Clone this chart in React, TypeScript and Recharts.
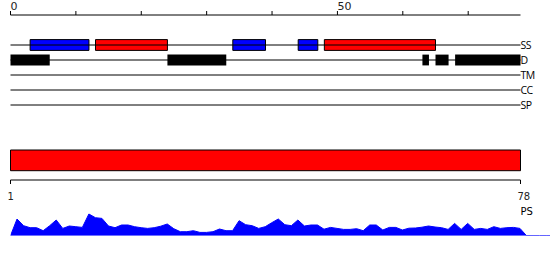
import React from 'react';
import { ComposedChart, XAxis, YAxis, ReferenceLine, ReferenceArea, Area, Label, Line } from 'recharts';

// protein feature tracks
const seqLength = 78;
const trackNames = ['SS', 'D', 'TM', 'CC', 'SP'];
const helixRanges = [[13, 24], [48, 65]];
const strandRanges = [[3, 12], [34, 39], [44, 47]];
const disorderRanges = [[0, 6], [24, 33], [63, 64], [65, 67], [68, 78]];

const topTicks = [0, 10, 20, 30, 40, 50, 60, 70];
const topTickLabels = ['0', '', '', '', '', '50', '', ''];
const bottomTicks = [0, 78];
const bottomTickLabels = ['1', '78'];

// PS profile, one value per position (0..78)
const profileValues = [
  0, 16.7, 10, 8, 8, 5, 10, 15.7, 7.3, 9.7, 9, 8.3, 21.7, 18, 17.3, 9.7, 8, 10.7, 10.7, 9,
  8, 7.3, 8, 9.5, 11.7, 7, 4, 4, 5, 3.3, 3.3, 4, 6.7, 5, 5, 15, 11, 10, 7.3, 9,
  13, 16.7, 11, 10, 15.7, 9.7, 10.7, 10.7, 6.5, 8.3, 7.3, 6.3, 6.3, 7, 5, 10.7, 10.7, 5.7, 8.3, 8.3,
  5.7, 7.5, 7.7, 8.5, 9.7, 8.7, 8, 6.3, 12.3, 6.3, 12.3, 6.3, 7.3, 6.3, 9, 7.3, 8, 8.3, 7.3,
  0, 0, 0, 0, 0,
];

const profileData = profileValues.map((v, i) => ({ pos: i, ps: v }));

const ROW0 = 2; // first track row
const BOX = 0.36; // half height of a feature box, in rows

const TopTick = ({ x, y, index }: any) => (
  <text x={x} y={y + 1} textAnchor="start" fontSize={11} fill="#222">
    {topTickLabels[index] ?? ''}
  </text>
);

const BottomTick = ({ x, y, index }: any) => (
  <text x={x - 3} y={y + 14} textAnchor="start" fontSize={10} fill="#222">
    {bottomTickLabels[index] ?? ''}
  </text>
);

const PsLabel = ({ viewBox }: any) => (
  <text x={viewBox.x + viewBox.width} y={viewBox.y + 34.6} fontSize={10} fill="#000">
    PS
  </text>
);

export default function App() {
  const trackLabel = (name: string) => ({
    value: name, position: 'right' as const, offset: 0, fontSize: 10.5, fill: '#000', fontFamily: 'Open Sans', letterSpacing: -0.6,
  });

  return (
    <div style={{ position: 'fixed', left: 0, top: 0, width: 550, height: 260, background: '#fff', fontFamily: 'DejaVu Sans' }}>
      <div style={{ position: 'absolute', left: 0, top: 0 }}>
        <ComposedChart width={550} height={260} data={profileData} margin={{ top: 0, right: 29.5, bottom: 40, left: 10.5 }}>
          <XAxis
            xAxisId="top" dataKey="pos" orientation="top" type="number" domain={[0, seqLength]} height={15}
            allowDataOverflow ticks={topTicks} interval={0} tickSize={4} tick={<TopTick />}
            axisLine={{ stroke: '#000' }} tickLine={{ stroke: '#000' }}
          />
          <XAxis
            xAxisId="bottom" dataKey="pos" orientation="bottom" type="number" domain={[0, seqLength]} height={40}
            allowDataOverflow ticks={bottomTicks} interval={0} tickSize={4} tick={<BottomTick />}
            axisLine={{ stroke: '#000' }} tickLine={{ stroke: '#000' }}
          >
            <Label content={<PsLabel />} />
          </XAxis>
          <YAxis yAxisId="rows" type="number" domain={[0, 11]} reversed hide allowDataOverflow />
          <Line xAxisId="top" yAxisId="rows" dataKey="none" stroke="none" dot={false} isAnimationActive={false} />

          {trackNames.map((name, i) => (
            <ReferenceLine key={name} xAxisId="top" yAxisId="rows" y={ROW0 + i} stroke="#000" label={trackLabel(name)} />
          ))}

          {strandRanges.map(([a, b], i) => (
            <ReferenceArea key={'s' + i} xAxisId="top" yAxisId="rows" x1={a} x2={b} y1={ROW0 - BOX} y2={ROW0 + BOX}
              fill="#0000ff" fillOpacity={1} stroke="#000" strokeWidth={1} />
          ))}
          {helixRanges.map(([a, b], i) => (
            <ReferenceArea key={'h' + i} xAxisId="top" yAxisId="rows" x1={a} x2={b} y1={ROW0 - BOX} y2={ROW0 + BOX}
              fill="#ff0000" fillOpacity={1} stroke="#000" strokeWidth={1} />
          ))}
          {disorderRanges.map(([a, b], i) => (
            <ReferenceArea key={'d' + i} xAxisId="top" yAxisId="rows" x1={a} x2={b} y1={ROW0 + 1 - BOX} y2={ROW0 + 1 + BOX}
              fill="#000" fillOpacity={1} stroke="#000" strokeWidth={0} />
          ))}

          <ReferenceArea xAxisId="top" yAxisId="rows" x1={0} x2={seqLength} y1={9} y2={10.38}
            fill="#ff0000" fillOpacity={1} stroke="#000" strokeWidth={1} />
        </ComposedChart>
      </div>

      <div style={{ position: 'absolute', left: 0, top: 0 }}>
        <ComposedChart width={550} height={260} data={profileData} margin={{ top: 210.7, right: 0, bottom: 24.3, left: 10.5 }}>
          <XAxis dataKey="pos" type="number" domain={[0, 82.6]} allowDataOverflow hide />
          <YAxis type="number" domain={[0, 25]} allowDataOverflow hide />
          <Area
            type="linear" dataKey="ps" stroke="#0000ff" strokeWidth={1}
            fill="#0000ff" fillOpacity={1} dot={false} activeDot={false}
            isAnimationActive={false}
          />
        </ComposedChart>
      </div>
    </div>
  );
}
